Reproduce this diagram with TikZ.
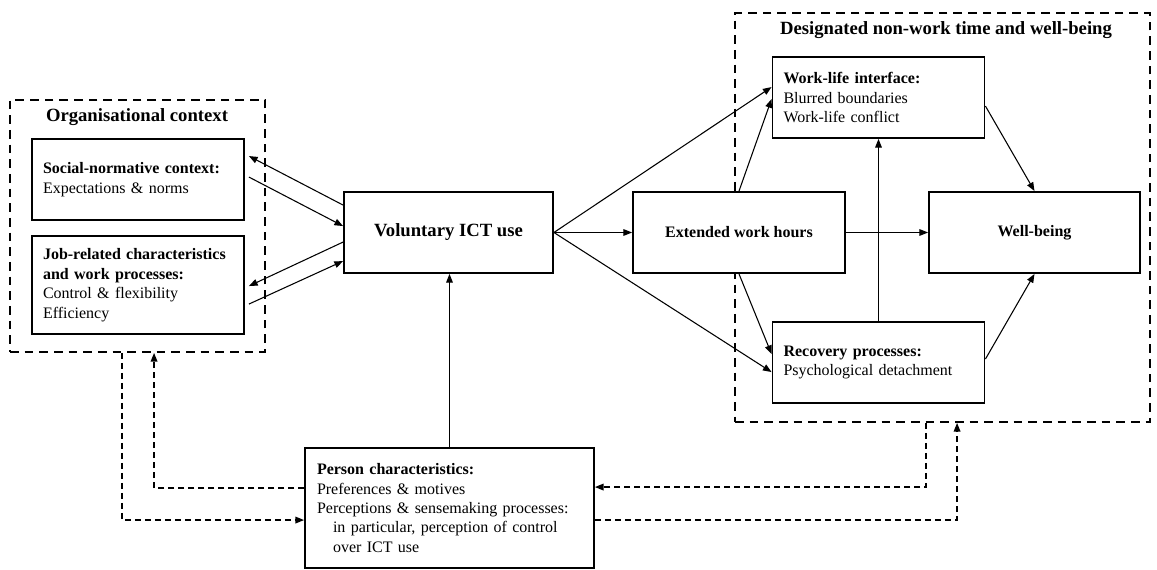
\documentclass[tikz,border=0pt]{standalone}
\usepackage{fontspec}
\setmainfont{Liberation Serif}
\usetikzlibrary{arrows.meta,calc}
\newcommand\bodyfont{\fontsize{12pt}{14.6pt}\selectfont}
\newcommand\titlefont{\fontsize{14pt}{17pt}\selectfont\bfseries}
\begin{document}
\begin{tikzpicture}[x=0.75pt,y=-0.75pt,
  box/.style={draw, fill=white, line width=1.4pt, inner sep=0pt, font=\bodyfont},
  lbox/.style={box, minimum width=159pt, minimum height=60.75pt, text width=142.5pt, align=left},
  cbox/.style={box, minimum height=60.75pt, align=center},
  dbox/.style={draw, line width=1.4pt, dash pattern=on 6.5pt off 4.5pt, inner sep=0pt},
  conn/.style={line width=0.8pt, -{Triangle[length=6.5pt,width=5pt]}},
  dconn/.style={conn, line width=1pt, dash pattern=on 4.5pt off 3pt},
  ttl/.style={font=\titlefont, inner sep=0pt}
]
\useasboundingbox (0,0) rectangle (1157,570);

% dashed group boxes
\node[dbox, minimum width=191.25pt, minimum height=189pt] (org) at (137.5,226) {};
\node[dbox, minimum width=311.25pt, minimum height=306.75pt] (des) at (942.5,217.5) {};
\node[ttl] (orgt) at (137,117) {Organisational context};
\node[ttl] (dest) at (946,30) {Designated non-work time and well-being};

% boxes
\node[lbox] (soc) at (138,179.5) {\textbf{Social-normative context:}\\Expectations \& norms};
\node[lbox, minimum height=73.5pt] (job) at (138,285) {\textbf{Job-related characteristics and work processes:}\\Control \& flexibility\\Efficiency};
\node[cbox, minimum width=156.75pt, font=\fontsize{14pt}{17pt}\selectfont\bfseries] (ict) at (448.5,232.5) {Voluntary ICT use};
\node[cbox, minimum width=159pt, font=\bodyfont\bfseries] (ext) at (739,232.5) {Extended work hours};
\node[cbox, minimum width=158.25pt, font=\bodyfont\bfseries] (wb) at (1034.5,232.5) {Well-being};
\node[lbox] (wli) at (878.5,97.5) {\textbf{Work-life interface:}\\Blurred boundaries\\Work-life conflict};
\node[lbox] (rec) at (878.5,362.5) {\textbf{Recovery processes:}\\Psychological detachment};
\node[box, minimum width=216.75pt, minimum height=90pt, text width=198.75pt, align=left] (per) at (449.5,508)
  {\textbf{Person characteristics:}\\Preferences \& motives\\Perceptions \& sensemaking processes:\\\hspace*{12pt}in particular, perception of control\\\hspace*{12pt}over ICT use};

% left arrows
\draw[conn] ($(ict.north west)+(0,14)$) -- ($(soc.north east)+(4,18)$);
\draw[conn] ($(soc.north east)+(4,39)$) -- ($(ict.north west)+(0,35)$);
\draw[conn] ($(ict.north west)+(0,51)$) -- ($(job.north east)+(4,51)$);
\draw[conn] ($(job.north east)+(4,69)$) -- ($(ict.north west)+(0,70)$);

% person to ICT
\draw[conn] (per.north) -- (per.north |- ict.south);

% ICT outgoing
\draw[conn] (ict.east) -- ($(wli.north west)+(0,31)$);
\draw[conn] (ict.east) -- (ext.west);
\draw[conn] (ict.east) -- ($(rec.north west)+(0,51)$);

% extended work hours
\draw[conn] (ext.north) -- ($(wli.north west)+(0,43)$);
\draw[conn] (ext.south) -- ($(rec.north west)+(0,33)$);
\draw[conn] (ext.east) -- (wb.west);

% recovery / work-life / well-being
\draw[conn] (rec.north) -- (wli.south);
\draw[conn] ($(wli.north east)+(0,50)$) -- (wb.north);
\draw[conn] ($(rec.north east)+(0,38)$) -- (wb.south);

% dashed feedback connectors
\draw[dconn] ($(per.north west)+(0,41)$) -| ($(org.south west)+(145,0)$);
\draw[dconn] ($(org.south west)+(113,0)$) |- ($(per.north west)+(0,73)$);
\draw[dconn] ($(des.south west)+(192,0)$) |- ($(per.north east)+(0,40)$);
\draw[dconn] ($(per.north east)+(0,73)$) -| ($(des.south west)+(223,0)$);
\end{tikzpicture}
\end{document}
